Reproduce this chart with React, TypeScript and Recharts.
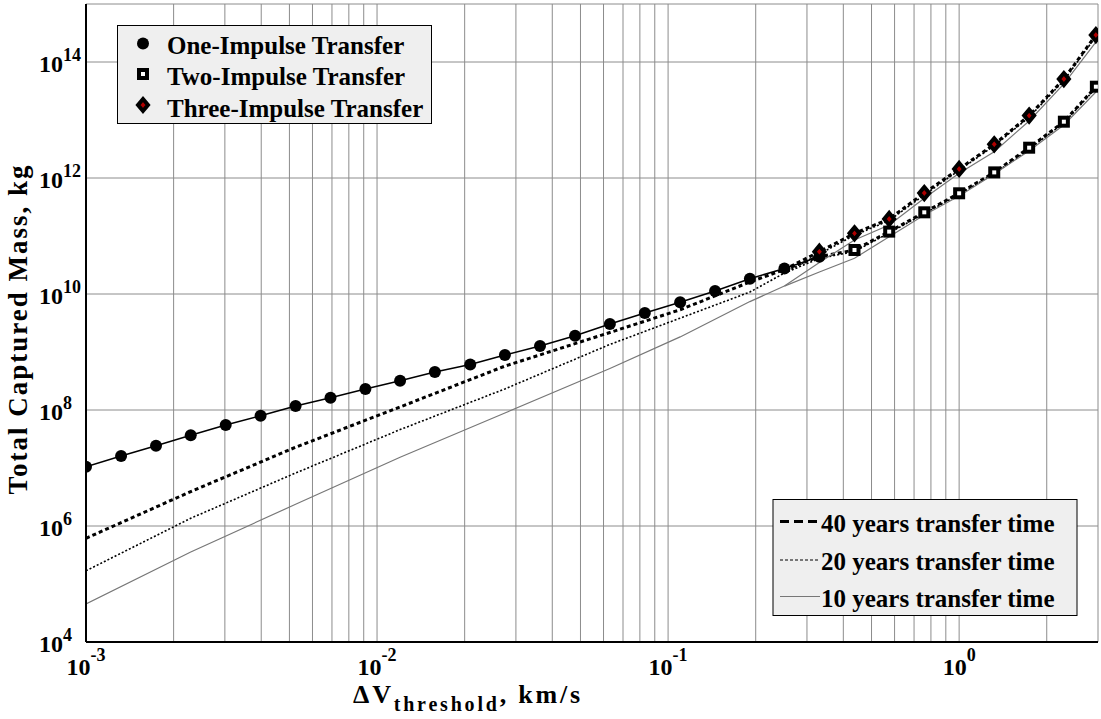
import React from "react";
import {
  ComposedChart,
  Line,
  XAxis,
  YAxis,
  CartesianGrid,
} from "recharts";

// delta-V threshold grid (km/s), markers every 0.12 decade
const DV_ONE = [
  0.001, 0.00132, 0.00174, 0.00229, 0.00302, 0.00398, 0.00525, 0.00692, 0.00912,
  0.012, 0.0158, 0.0209, 0.0275, 0.0363, 0.0479, 0.0631, 0.0832, 0.11, 0.145,
  0.191, 0.251, 0.331,
];
const MASS_ONE = [
  1.05e7, 1.61e7, 2.42e7, 3.66e7, 5.51e7, 7.98e7, 1.17e8, 1.63e8, 2.3e8, 3.2e8,
  4.52e8, 6.08e8, 8.87e8, 1.27e9, 1.91e9, 3.04e9, 4.7e9, 7.19e9, 1.13e10,
  1.83e10, 2.76e10, 4.4e10,
];

const DV_TWO = [0.437, 0.575, 0.759, 1.0, 1.32, 1.74, 2.29, 2.95];
const MASS_TWO = [5.74e10, 1.19e11, 2.56e11, 5.45e11, 1.25e12, 3.33e12, 9.35e12, 3.75e13];

const DV_THREE = [0.331, 0.437, 0.575, 0.759, 1.0, 1.32, 1.74, 2.29, 2.95];
const MASS_THREE = [5.36e10, 1.11e11, 1.97e11, 5.51e11, 1.43e12, 3.81e12, 1.19e13, 5.09e13, 2.92e14];

// transfer-time curves, common low part
const DV_LOW = [0.001, 0.00229, 0.00525, 0.012, 0.0275, 0.0631, 0.11, 0.191, 0.251];
const LOW_40 = [6.14e5, 3.92e6, 2.28e7, 1.13e8, 5.71e8, 2.17e9, 5.35e9, 1.61e10, 2.64e10];
const LOW_20 = [1.69e5, 1.36e6, 8.2e6, 4.59e7, 2.31e8, 1.35e9, 3.83e9, 1.08e10, 2.3e10];
const LOW_10 = [4.52e4, 3.56e5, 2.37e6, 1.53e7, 8.87e7, 5.2e8, 1.82e9, 7.4e9, 1.37e10];

// branches above ~0.25 km/s (upper = three-impulse, lower = two-impulse)
const DV_HIGH = [0.251, 0.331, 0.437, 0.575, 0.759, 1.0, 1.32, 1.74, 2.29, 2.95];
const UP_40 = [2.64e10, 5.36e10, 1.11e11, 1.97e11, 5.51e11, 1.43e12, 3.81e12, 1.19e13, 5.09e13, 2.92e14];
const DOWN_40 = [2.64e10, 4.4e10, 5.74e10, 1.19e11, 2.56e11, 5.45e11, 1.25e12, 3.33e12, 9.35e12, 3.75e13];
const UP_20 = [2.3e10, 4.9e10, 1.03e11, 1.85e11, 5.1e11, 1.36e12, 3.6e12, 1.12e13, 4.8e13, 2.75e14];
const DOWN_20 = [2.3e10, 4.1e10, 5.4e10, 1.13e11, 2.43e11, 5.2e11, 1.19e12, 3.15e12, 8.9e12, 3.55e13];
const UP_10 = [1.37e10, 3.49e10, 8.53e10, 1.55e11, 4.47e11, 1.21e12, 2.84e12, 9.62e12, 4.18e13, 2.21e14];
const DOWN_10 = [1.37e10, 2.39e10, 4.13e10, 9.73e10, 2.3e11, 4.9e11, 1.17e12, 2.96e12, 8.2e12, 3.04e13];

const X_GRID = [
  0.001, 0.002, 0.003, 0.004, 0.005, 0.006, 0.007, 0.008, 0.009,
  0.01, 0.02, 0.03, 0.04, 0.05, 0.06, 0.07, 0.08, 0.09,
  0.1, 0.2, 0.3, 0.4, 0.5, 0.6, 0.7, 0.8, 0.9,
  1, 2,
];
const X_LABELS: Record<string, string> = { "0.001": "-3", "0.01": "-2", "0.1": "-1", "1": "0" };
const Y_TICKS = [1e4, 1e6, 1e8, 1e10, 1e12, 1e14];

const FONT = "'Liberation Serif', 'Times New Roman', serif";

const pts = (xs: number[], ys: number[]) => xs.map((x, i) => ({ x, y: ys[i] }));

function XTick({ x, y, payload }: any) {
  const exp = X_LABELS[String(payload.value)];
  if (!exp) return null;
  return (
    <text x={x} y={y + 31} textAnchor="middle" fontFamily={FONT} fontWeight="bold" fontSize={24} fill="#000">
      10
      <tspan dy={-14} fontSize={18}>{exp}</tspan>
    </text>
  );
}

function YTick({ y, payload }: any) {
  const exp = Math.round(Math.log10(payload.value));
  return (
    <text x={39} y={y + 10} fontFamily={FONT} fontWeight="bold" fontSize={24} fill="#000">
      10
      <tspan dy={-11} fontSize={18}>{exp}</tspan>
    </text>
  );
}

const circleDot = (p: any) => <circle key={`c${p.index}`} cx={p.cx} cy={p.cy} r={6} fill="#000" />;
const squareDot = (p: any) => (
  <rect key={`s${p.index}`} x={p.cx - 4} y={p.cy - 4} width={8} height={8} fill="#fff" stroke="#000" strokeWidth={4} />
);
const diamondDot = (p: any) => (
  <polygon
    key={`d${p.index}`}
    points={`${p.cx},${p.cy - 6} ${p.cx + 5},${p.cy} ${p.cx},${p.cy + 6} ${p.cx - 5},${p.cy}`}
    fill="#b00000"
    stroke="#000"
    strokeWidth={4}
  />
);

const S40 = { stroke: "#000", strokeWidth: 3, strokeDasharray: "4 3" };
const S20 = { stroke: "#000", strokeWidth: 1.6, strokeDasharray: "2 2" };
const S10 = { stroke: "#777", strokeWidth: 1.2 };

const TIME_LINES = [
  { id: "l40", data: pts(DV_LOW, LOW_40), s: S40 },
  { id: "u40", data: pts(DV_HIGH, UP_40), s: S40 },
  { id: "d40", data: pts(DV_HIGH, DOWN_40), s: S40 },
  { id: "l20", data: pts(DV_LOW, LOW_20), s: S20 },
  { id: "u20", data: pts(DV_HIGH, UP_20), s: S20 },
  { id: "d20", data: pts(DV_HIGH, DOWN_20), s: S20 },
  { id: "l10", data: pts(DV_LOW, LOW_10), s: S10 },
  { id: "u10", data: pts(DV_HIGH, UP_10), s: S10 },
  { id: "d10", data: pts(DV_HIGH, DOWN_10), s: S10 },
];

export default function App() {
  return (
    <div style={{ position: "absolute", left: 0, top: 0, width: 1101, height: 719, background: "#fff" }}>
      <ComposedChart width={1101} height={719} margin={{ top: 4, right: 3, left: 0, bottom: 0 }}>
        <CartesianGrid stroke="#8c8c8c" strokeWidth={1} />
        <XAxis
          type="number"
          dataKey="x"
          scale="log"
          domain={[0.001, 3]}
          allowDataOverflow
          ticks={X_GRID}
          interval={0}
          tick={<XTick />}
          tickLine={false}
          tickSize={0}
          height={77}
          axisLine={{ stroke: "#000", strokeWidth: 2 }}
        />
        <XAxis xAxisId="top" orientation="top" type="number" scale="log" domain={[0.001, 3]} height={0} tick={false} tickLine={false} axisLine={{ stroke: "#000", strokeWidth: 2 }} />
        <YAxis
          type="number"
          dataKey="y"
          scale="log"
          domain={[1e4, 1e15]}
          allowDataOverflow
          ticks={Y_TICKS}
          interval={0}
          tick={<YTick />}
          tickLine={false}
          tickSize={0}
          width={86}
          axisLine={{ stroke: "#000", strokeWidth: 2 }}
        />
        <YAxis yAxisId="right" orientation="right" type="number" scale="log" domain={[1e4, 1e15]} width={0} tick={false} tickLine={false} axisLine={{ stroke: "#000", strokeWidth: 2 }} />

        {TIME_LINES.map((l) => (
          <Line
            key={l.id}
            data={l.data}
            dataKey="y"
            type="linear"
            dot={false}
            activeDot={false}
            isAnimationActive={false}
            {...l.s}
          />
        ))}

        <Line data={pts(DV_ONE, MASS_ONE)} dataKey="y" type="linear" stroke="#000" strokeWidth={1.5} dot={circleDot} activeDot={false} isAnimationActive={false} />
        <Line data={pts(DV_TWO, MASS_TWO)} dataKey="y" type="linear" stroke="none" dot={squareDot} activeDot={false} isAnimationActive={false} />
        <Line data={pts(DV_THREE, MASS_THREE)} dataKey="y" type="linear" stroke="none" dot={diamondDot} activeDot={false} isAnimationActive={false} />
      </ComposedChart>

      <svg width={1101} height={719} style={{ position: "absolute", left: 0, top: 0, pointerEvents: "none" }}>
        <g fontFamily={FONT} fontWeight="bold" fill="#000">
          {/* axis titles */}
          <text transform="translate(27,329) rotate(-90)" textAnchor="middle" fontSize={27} letterSpacing={2}>
            Total Captured Mass, kg
          </text>
          <text x={468} y={703} textAnchor="middle" fontSize={26} letterSpacing={2.8}>
            ΔV<tspan dy={8} fontSize={20}>threshold</tspan>
            <tspan dy={-8}>, km/s</tspan>
          </text>

          {/* marker legend */}
          <rect x={117.5} y={25.5} width={314} height={98} fill="#efefef" stroke="#000" strokeWidth={1} />
          <circle cx={143} cy={43.5} r={6} fill="#000" />
          <rect x={139} y={70} width={8} height={8} fill="#fff" stroke="#000" strokeWidth={4} />
          <polygon points="143,99 148,105 143,111 138,105" fill="#b00000" stroke="#000" strokeWidth={4} />
          <text x={167} y={53.5} fontSize={25}>One-Impulse Transfer</text>
          <text x={167} y={85} fontSize={25}>Two-Impulse Transfer</text>
          <text x={167} y={116.5} fontSize={25}>Three-Impulse Transfer</text>

          {/* transfer time legend */}
          <rect x={773} y={499.5} width={304} height={116} fill="#efefef" stroke="#000" strokeWidth={1} />
          <line x1={780} y1={521.5} x2={820} y2={521.5} stroke="#000" strokeWidth={3} strokeDasharray="9 5" />
          <line x1={780} y1={560} x2={820} y2={560} stroke="#000" strokeWidth={1.2} strokeDasharray="3 2" />
          <line x1={780} y1={596.5} x2={820} y2={596.5} stroke="#777" strokeWidth={1.2} />
          <text x={821} y={531.5} fontSize={25}>40 years transfer time</text>
          <text x={821} y={569.5} fontSize={25}>20 years transfer time</text>
          <text x={821} y={606.5} fontSize={25}>10 years transfer time</text>
        </g>
      </svg>
    </div>
  );
}
